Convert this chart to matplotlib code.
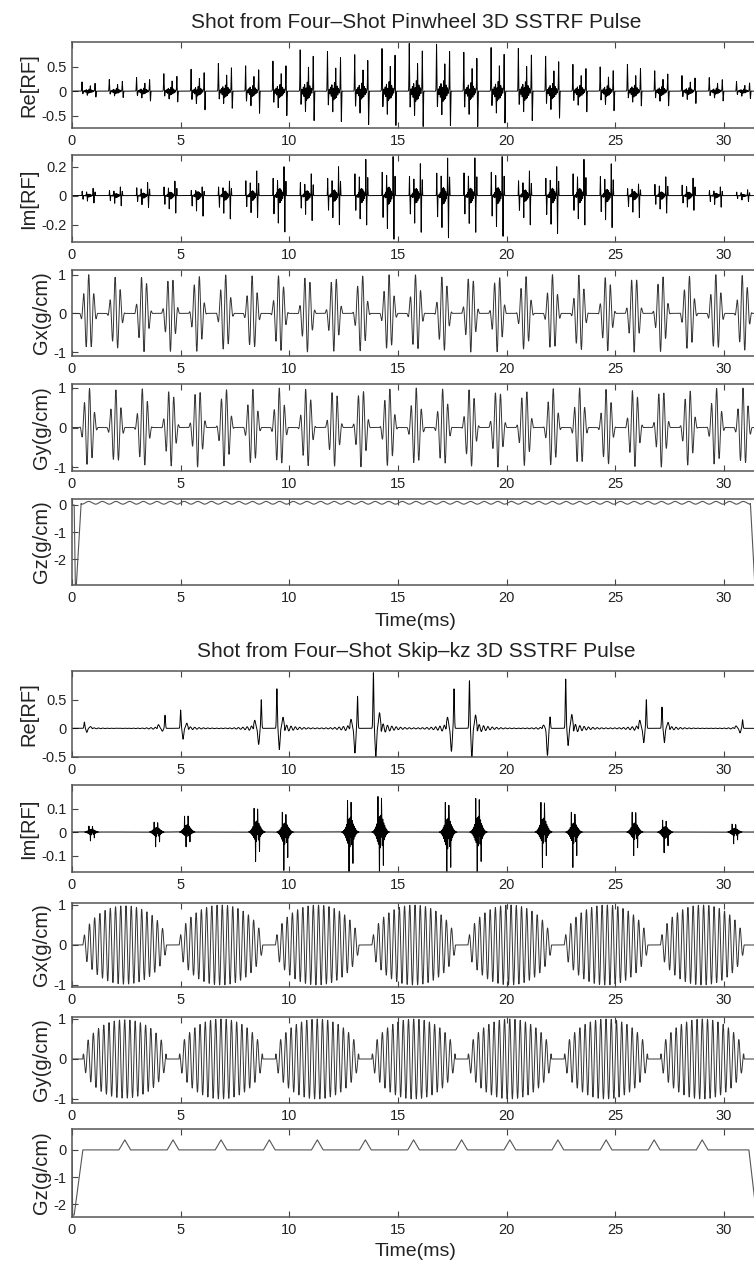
import numpy as np
import matplotlib
matplotlib.use("Agg")
import matplotlib.pyplot as plt
from matplotlib.ticker import FuncFormatter

plt.rcParams['font.family'] = ['Liberation Sans', 'DejaVu Sans']
plt.rcParams['axes.unicode_minus'] = False

# ---------------- Pinwheel shot (top block) ----------------
pw_first_center = 0.77      # ms, centre of first subpulse
pw_spacing = 1.255          # ms between subpulses
pw_half = 0.42              # half width of each gradient subpulse
# Re[RF] tall positive / negative spike per subpulse
pw_re_pos = [0.19, 0.24, 0.28, 0.36, 0.45, 0.57, 0.52, 0.62, 0.85, 0.82, 0.75, 0.88, 0.98,
             0.97, 0.80, 0.90, 0.88, 0.72, 0.55, 0.50, 0.55, 0.42, 0.32, 0.28, 0.20]
pw_re_neg = [0.12, 0.13, 0.20, 0.22, 0.38, 0.35, 0.45, 0.50, 0.60, 0.62, 0.68, 0.70, 0.72,
             0.70, 0.72, 0.65, 0.60, 0.55, 0.42, 0.40, 0.30, 0.30, 0.25, 0.20, 0.15]
# Im[RF] spikes per subpulse
pw_im_pos = [0.05, 0.06, 0.09, 0.10, 0.06, 0.10, 0.17, 0.20, 0.15, 0.20, 0.25, 0.27, 0.22,
             0.26, 0.26, 0.27, 0.17, 0.20, 0.25, 0.22, 0.08, 0.13, 0.12, 0.06, 0.04]
pw_im_neg = [0.05, 0.07, 0.08, 0.12, 0.14, 0.16, 0.15, 0.25, 0.17, 0.20, 0.20, 0.30, 0.25,
             0.29, 0.25, 0.28, 0.20, 0.26, 0.20, 0.22, 0.15, 0.12, 0.10, 0.08, 0.04]
# gradient peak per subpulse
pw_g_peak = [1.0, 0.95, 1.0, 0.98, 1.0, 1.0, 0.97, 1.0, 1.0, 0.98, 1.0, 1.0, 1.0,
             0.98, 1.0, 1.0, 0.97, 1.0, 1.0, 0.98, 1.0, 1.0, 0.97, 1.0, 1.0]
pw_g_cycles = 3.5
pw_rot_step = 1.1           # rad, arm rotation between subpulses
# Gz: rewinder and small ripple during the pulse
pw_gz_time = [0.0, 0.10, 0.15, 0.20, 0.42]
pw_gz_val = [0.0, 0.0, -2.95, -2.95, 0.05]
pw_gz_end_time = [31.22, 31.42]
pw_gz_end_val = [0.05, -2.95]
pw_gz_level = 0.08
pw_gz_ripple = 0.05

# ---------------- Skip-kz shot (bottom block) ----------------
sk_lobe_start = [0.5, 4.93, 9.36, 13.8, 18.22, 22.65, 27.08]
sk_lobe_len = 3.85
sk_g_peak = [0.98, 1.0, 1.0, 1.0, 1.0, 1.0, 1.0]
sk_g_cycles = 16
# Re[RF] spike just after each lobe start and just before each lobe end
sk_re_out_pos = [0.11, 0.32, 0.69, 0.97, 0.83, 0.86, 0.37]
sk_re_out_neg = [0.07, 0.19, 0.37, 0.52, 0.55, 0.30, 0.25]
sk_re_in_pos = [0.23, 0.50, 0.56, 0.69, 0.20, 0.50, 0.15]
sk_re_in_neg = [0.05, 0.28, 0.43, 0.40, 0.47, 0.25, 0.08]
# Im[RF] bursts
sk_im_center = [0.9, 3.9, 5.3, 8.5, 9.8, 12.8, 14.2, 17.3, 18.7, 21.7, 23.1, 25.9, 27.3, 30.5]
sk_im_pos = [0.03, 0.05, 0.08, 0.12, 0.10, 0.16, 0.18, 0.15, 0.17, 0.15, 0.10, 0.10, 0.06, 0.04]
sk_im_neg = [0.03, 0.05, 0.05, 0.10, 0.13, 0.16, 0.17, 0.18, 0.15, 0.12, 0.12, 0.08, 0.07, 0.04]
# Gz: rewinder, kz blips, ramp at the end
sk_gz_start_time = [0.0, 0.03, 0.10, 0.50]
sk_gz_start_val = [0.0, -2.4, -2.4, 0.0]
sk_blip_center = [2.43, 4.65, 6.86, 9.08, 11.29, 13.5, 15.72, 17.93, 20.15, 22.36, 24.58, 26.79, 29.0]
sk_blip_height = 0.37
sk_blip_half = 0.27
sk_gz_end_time = [31.15, 31.5]
sk_gz_end_val = [0.0, -2.4]

t = np.arange(0, 31.8, 0.002)


def bump(mu, sig):
    return np.exp(-0.5 * ((t - mu) / sig) ** 2)


# ---- build pinwheel waveforms ----
pw_re = np.zeros_like(t)
pw_im = np.zeros_like(t)
pw_gx = np.zeros_like(t)
pw_gy = np.zeros_like(t)
for k in range(len(pw_re_pos)):
    c = pw_first_center + k * pw_spacing
    p, n = pw_re_pos[k], pw_re_neg[k]
    mid = np.exp(-0.5 * ((t - c) / 0.13) ** 2) * np.sin(2 * np.pi * (t - c) / 0.06)
    pw_re += (p * bump(c - 0.31, 0.011) - 0.45 * n * bump(c - 0.27, 0.011)
              + 0.22 * p * mid - 0.6 * n * bump(c - 0.06, 0.012) + 0.4 * p * bump(c + 0.07, 0.011)
              + 0.85 * p * bump(c + 0.29, 0.011) - n * bump(c + 0.33, 0.011))
    p, n = pw_im_pos[k], pw_im_neg[k]
    mid = np.exp(-0.5 * ((t - c) / 0.1) ** 2) * np.sin(2 * np.pi * (t - c) / 0.05)
    pw_im += (0.6 * p * bump(c - 0.30, 0.008) - 0.5 * n * bump(c - 0.26, 0.008)
              + 0.2 * max(p, n) * mid + 0.5 * p * bump(c - 0.1, 0.008) - 0.6 * n * bump(c - 0.06, 0.008)
              + p * bump(c + 0.20, 0.008) - n * bump(c + 0.24, 0.008) + 0.5 * p * bump(c + 0.29, 0.008))
    u = (t - (c - pw_half)) / (2 * pw_half)
    inside = (u >= 0) & (u <= 1)
    env = np.where(inside, np.sin(np.pi * np.clip(u, 0, 1)) ** 1.5, 0.0)
    ph = 2 * np.pi * pw_g_cycles * (u - 0.5) + k * pw_rot_step
    pw_gx += pw_g_peak[k] * env * np.cos(ph)
    pw_gy += pw_g_peak[k] * env * np.sin(ph + 0.6)

pw_gz = np.interp(t, pw_gz_time + pw_gz_end_time, pw_gz_val + pw_gz_end_val)
ripple = (t > pw_gz_time[-1]) & (t < pw_gz_end_time[0])
pw_gz[ripple] = pw_gz_level + pw_gz_ripple * np.cos(2 * np.pi * (t[ripple] - pw_first_center) / (pw_spacing / 2))

# ---- build skip-kz waveforms ----
sk_re = np.zeros_like(t)
sk_im = np.zeros_like(t)
sk_gx = np.zeros_like(t)
sk_gy = np.zeros_like(t)
for k in range(len(sk_lobe_start)):
    s0 = sk_lobe_start[k]
    s1 = s0 + sk_lobe_len
    u = (t - s0) / sk_lobe_len
    inside = (u >= 0) & (u <= 1)
    env = np.where(inside, np.sqrt(np.clip(1 - (2 * u - 1) ** 2, 0, 1)), 0.0)
    sk_gx += sk_g_peak[k] * env * np.sin(2 * np.pi * sk_g_cycles * u)
    sk_gy += sk_g_peak[k] * env * np.cos(2 * np.pi * sk_g_cycles * u)
    # spike after lobe start (spiral-out begins)
    a = s0 + 0.07
    p, n = sk_re_out_pos[k], sk_re_out_neg[k]
    tail = np.where(t > a + 0.35, np.exp(-(t - a) / 0.55) * np.sin(2 * np.pi * (t - a) / 0.2), 0.0)
    sk_re += (p * bump(a, 0.02) - n * bump(a + 0.11, 0.03) + 0.28 * p * bump(a + 0.28, 0.04)
              + 0.18 * p * tail * inside)
    # spike before lobe end (spiral-in finishes)
    b = s1 - 0.07
    p, n = sk_re_in_pos[k], sk_re_in_neg[k]
    tail = np.where(t < b - 0.35, np.exp(-(b - t) / 0.55) * np.sin(2 * np.pi * (b - t) / 0.2), 0.0)
    sk_re += (p * bump(b, 0.02) - n * bump(b - 0.12, 0.035) + 0.28 * p * bump(b - 0.3, 0.04)
              + 0.18 * p * tail * inside)

for c, p, n in zip(sk_im_center, sk_im_pos, sk_im_neg):
    osc = np.sin(2 * np.pi * (t - c) / 0.045)
    env = np.exp(-0.5 * ((t - c) / 0.14) ** 2)
    sk_im += 0.4 * env * np.where(osc > 0, p, n) * osc
    sk_im += (p * bump(c + 0.04, 0.006) - n * bump(c - 0.05, 0.006)
              + 0.6 * p * bump(c - 0.12, 0.006) - 0.65 * n * bump(c + 0.13, 0.006))

gz_time = list(sk_gz_start_time)
gz_val = list(sk_gz_start_val)
for c in sk_blip_center:
    gz_time += [c - sk_blip_half, c, c + sk_blip_half]
    gz_val += [0.0, sk_blip_height, 0.0]
gz_time += sk_gz_end_time
gz_val += sk_gz_end_val

# ---------------- figure ----------------
W, H = 754, 1263
fig = plt.figure(figsize=(W / 100, H / 100), dpi=100)
px_per_ms = 21.73
xmax = 32.0
fmt = FuncFormatter(lambda v, p: f'{v:g}')


def panel(top, bottom, ylim, yticks, ylabel):
    ax = fig.add_axes([72 / W, 1 - bottom / H, xmax * px_per_ms / W, (bottom - top) / H])
    ax.set_xlim(0, xmax)
    ax.set_ylim(*ylim)
    ax.set_xticks([0, 5, 10, 15, 20, 25, 30])
    ax.set_yticks(yticks)
    ax.xaxis.set_major_formatter(fmt)
    ax.yaxis.set_major_formatter(fmt)
    ax.tick_params(direction='in', top=True, right=True, length=4, width=0.8,
                   color='#444', labelcolor='#222', labelsize=10.5, pad=4)
    for sp in ax.spines.values():
        sp.set_color('#555')
        sp.set_linewidth(1.1)
    ax.set_ylabel(ylabel, fontsize=14.5, color='#222', labelpad=2)
    return ax


lw = 0.7
ax = panel(42, 128, (-0.75, 1.0), [-0.5, 0, 0.5], 'Re[RF]')
ax.plot(t, pw_re, color='black', lw=lw)
ax = panel(155, 242, (-0.32, 0.28), [-0.2, 0, 0.2], 'Im[RF]')
ax.plot(t, pw_im, color='black', lw=lw)
ax = panel(270, 356, (-1.1, 1.12), [-1, 0, 1], 'Gx(g/cm)')
ax.plot(t, pw_gx, color='#333333', lw=lw)
ax = panel(384, 471, (-1.1, 1.1), [-1, 0, 1], 'Gy(g/cm)')
ax.plot(t, pw_gy, color='#333333', lw=lw)
ax = panel(499, 585, (-2.95, 0.22), [-2, -1, 0], 'Gz(g/cm)')
ax.plot(t, pw_gz, color='#555555', lw=0.8)

ax = panel(671, 757, (-0.5, 1.0), [-0.5, 0, 0.5], 'Re[RF]')
ax.plot(t, sk_re, color='black', lw=lw)
ax = panel(785, 872, (-0.17, 0.2), [-0.1, 0, 0.1], 'Im[RF]')
ax.plot(t, sk_im, color='black', lw=lw)
ax = panel(903, 987, (-1.05, 1.05), [-1, 0, 1], 'Gx(g/cm)')
ax.plot(t, sk_gx, color='#333333', lw=lw)
ax = panel(1017, 1103, (-1.1, 1.05), [-1, 0, 1], 'Gy(g/cm)')
ax.plot(t, sk_gy, color='#333333', lw=lw)
ax = panel(1129, 1217, (-2.47, 0.77), [-2, -1, 0], 'Gz(g/cm)')
ax.plot(gz_time, gz_val, color='#555555', lw=0.8)

fig.text(416 / W, 1 - 22 / H, 'Shot from Four\u2013Shot Pinwheel 3D SSTRF Pulse',
         ha='center', va='center', fontsize=15, color='#222')
fig.text(416 / W, 1 - 622 / H, 'Time(ms)', ha='center', va='center', fontsize=14, color='#222')
fig.text(416 / W, 1 - 651 / H, 'Shot from Four\u2013Shot Skip\u2013kz 3D SSTRF Pulse',
         ha='center', va='center', fontsize=15, color='#222')
fig.text(416 / W, 1 - 1252 / H, 'Time(ms)', ha='center', va='center', fontsize=14, color='#222')

fig.savefig('out.png', dpi=100)
